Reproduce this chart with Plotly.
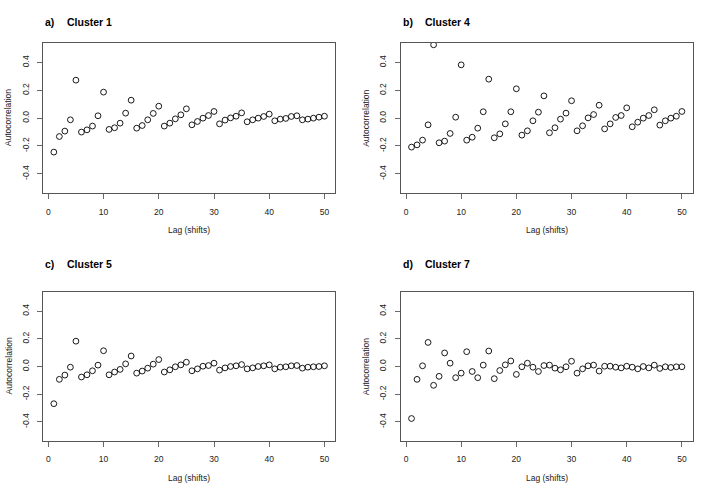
import plotly.graph_objects as go

lags = list(range(1, 51))

cluster1 = [-0.244, -0.132, -0.093, -0.012, 0.273, -0.100, -0.084, -0.057, 0.017, 0.187,
            -0.081, -0.069, -0.036, 0.036, 0.129, -0.072, -0.053, -0.012, 0.034, 0.086,
            -0.057, -0.036, -0.005, 0.024, 0.067, -0.048, -0.024, 0.000, 0.019, 0.048,
            -0.041, -0.014, 0.002, 0.014, 0.038, -0.026, -0.012, 0.000, 0.012, 0.029,
            -0.019, -0.007, -0.002, 0.012, 0.017, -0.012, -0.007, 0.000, 0.007, 0.014]

cluster4 = [-0.208, -0.192, -0.158, -0.048, 0.527, -0.177, -0.165, -0.110, 0.007, 0.383,
            -0.158, -0.137, -0.072, 0.046, 0.280, -0.141, -0.113, -0.041, 0.046, 0.211,
            -0.122, -0.091, -0.019, 0.043, 0.160, -0.105, -0.069, -0.007, 0.036, 0.125,
            -0.091, -0.055, 0.002, 0.026, 0.093, -0.077, -0.041, 0.005, 0.019, 0.074,
            -0.062, -0.029, 0.000, 0.019, 0.060, -0.050, -0.019, 0.000, 0.014, 0.048]

cluster5 = [-0.269, -0.093, -0.062, -0.005, 0.183, -0.076, -0.060, -0.031, 0.010, 0.114,
            -0.060, -0.040, -0.021, 0.019, 0.076, -0.048, -0.033, -0.012, 0.017, 0.050,
            -0.040, -0.024, -0.002, 0.012, 0.031, -0.031, -0.017, 0.002, 0.007, 0.024,
            -0.026, -0.010, 0.000, 0.005, 0.014, -0.017, -0.010, 0.000, 0.005, 0.012,
            -0.017, -0.005, -0.002, 0.005, 0.007, -0.012, -0.005, -0.002, 0.000, 0.005]

cluster7 = [-0.376, -0.093, 0.005, 0.174, -0.136, -0.071, 0.098, 0.024, -0.081, -0.048,
            0.107, -0.036, -0.081, 0.010, 0.112, -0.088, -0.029, 0.012, 0.040, -0.057,
            -0.002, 0.024, -0.005, -0.036, 0.007, 0.010, -0.012, -0.024, -0.002, 0.038,
            -0.048, -0.017, 0.005, 0.010, -0.033, 0.002, 0.002, -0.005, -0.010, 0.002,
            -0.005, -0.017, 0.000, -0.010, 0.010, -0.014, -0.002, -0.007, -0.002, -0.002]

panel_letters = ["a)", "b)", "c)", "d)"]
panel_names = ["Cluster 1", "Cluster 4", "Cluster 5", "Cluster 7"]
series = [cluster1, cluster4, cluster5, cluster7]

x_ticks = [0, 10, 20, 30, 40, 50]
y_ticks = [-0.4, -0.2, 0.0, 0.2, 0.4]
y_ticklabels = ["-0.4", "-0.2", "0.0", "0.2", "0.4"]

W, H = 715, 496
FONT = "Liberation Sans, Arial, Helvetica, sans-serif"

# pixel boxes (left, right, top, bottom)
boxes = [(43, 335.3, 43, 193.3), (400.7, 692.7, 43, 193.3),
         (43, 335.3, 291.8, 441.2), (400.7, 692.7, 291.8, 441.2)]
title_y = [22.3, 22.3, 264.3, 264.3]

fig = go.Figure()
annotations = []
layout = {}
for i, (vals, box) in enumerate(zip(series, boxes)):
    l, r, t, b = box
    n = i + 1
    xa = "xaxis" if n == 1 else f"xaxis{n}"
    ya = "yaxis" if n == 1 else f"yaxis{n}"
    fig.add_trace(go.Scatter(
        x=lags, y=vals, mode="markers",
        marker=dict(symbol="circle-open", size=5.8, color="black",
                    line=dict(width=0.9, color="black")),
        xaxis=f"x{n}" if n > 1 else "x", yaxis=f"y{n}" if n > 1 else "y",
        showlegend=False, hoverinfo="x+y"))
    layout[xa] = dict(
        domain=[l / W, r / W], range=[-0.96, 51.96], anchor=f"y{n}" if n > 1 else "y",
        tickmode="array", tickvals=x_ticks, ticktext=[str(v) for v in x_ticks],
        ticks="outside", ticklen=5, tickwidth=0.8, tickcolor="#444",
        showgrid=False, zeroline=False, showline=True, mirror=True,
        linecolor="#555", linewidth=1, automargin=False,
        tickfont=dict(family=FONT, size=8.5, color="#222"),
        ticklabelstandoff=5, fixedrange=True)
    layout[ya] = dict(
        domain=[1 - b / H, 1 - t / H], range=[-0.54, 0.54], anchor=f"x{n}" if n > 1 else "x",
        tickmode="array", tickvals=y_ticks, ticktext=y_ticklabels, tickangle=-90,
        ticks="outside", ticklen=5, tickwidth=0.8, tickcolor="#444",
        showgrid=False, zeroline=False, showline=True, mirror=True,
        linecolor="#555", linewidth=1, automargin=False,
        tickfont=dict(family=FONT, size=8.5, color="#222"),
        ticklabelstandoff=5, fixedrange=True)
    # titles
    annotations.append(dict(text="<b>" + panel_letters[i] + "</b>", x=l / W, y=1 - title_y[i] / H,
                            xref="paper", yref="paper", xanchor="left", yanchor="middle",
                            showarrow=False, font=dict(family=FONT, size=10.5, color="black")))
    annotations.append(dict(text="<b>" + panel_names[i] + "</b>", x=(l + 22) / W, y=1 - title_y[i] / H,
                            xref="paper", yref="paper", xanchor="left", yanchor="middle",
                            showarrow=False, font=dict(family=FONT, size=10.5, color="black")))
    # axis titles
    annotations.append(dict(text="Lag (shifts)", x=(l + r) / 2 / W, y=1 - (b + 37) / H,
                            xref="paper", yref="paper", xanchor="center", yanchor="middle",
                            showarrow=False, font=dict(family=FONT, size=8.5, color="#222")))
    annotations.append(dict(text="Autocorrelation", x=(l - 35) / W, y=1 - (t + b) / 2 / H,
                            xref="paper", yref="paper", xanchor="center", yanchor="middle",
                            textangle=-90,
                            showarrow=False, font=dict(family=FONT, size=8.5, color="#222")))

fig.update_layout(
    width=W, height=H, margin=dict(l=0, r=0, t=0, b=0),
    paper_bgcolor="white", plot_bgcolor="white",
    annotations=annotations, **layout)

fig.write_html("out.html", config={"displayModeBar": False, "staticPlot": True},
               post_script="document.body.style.margin='0px';document.body.style.overflow='hidden';")
